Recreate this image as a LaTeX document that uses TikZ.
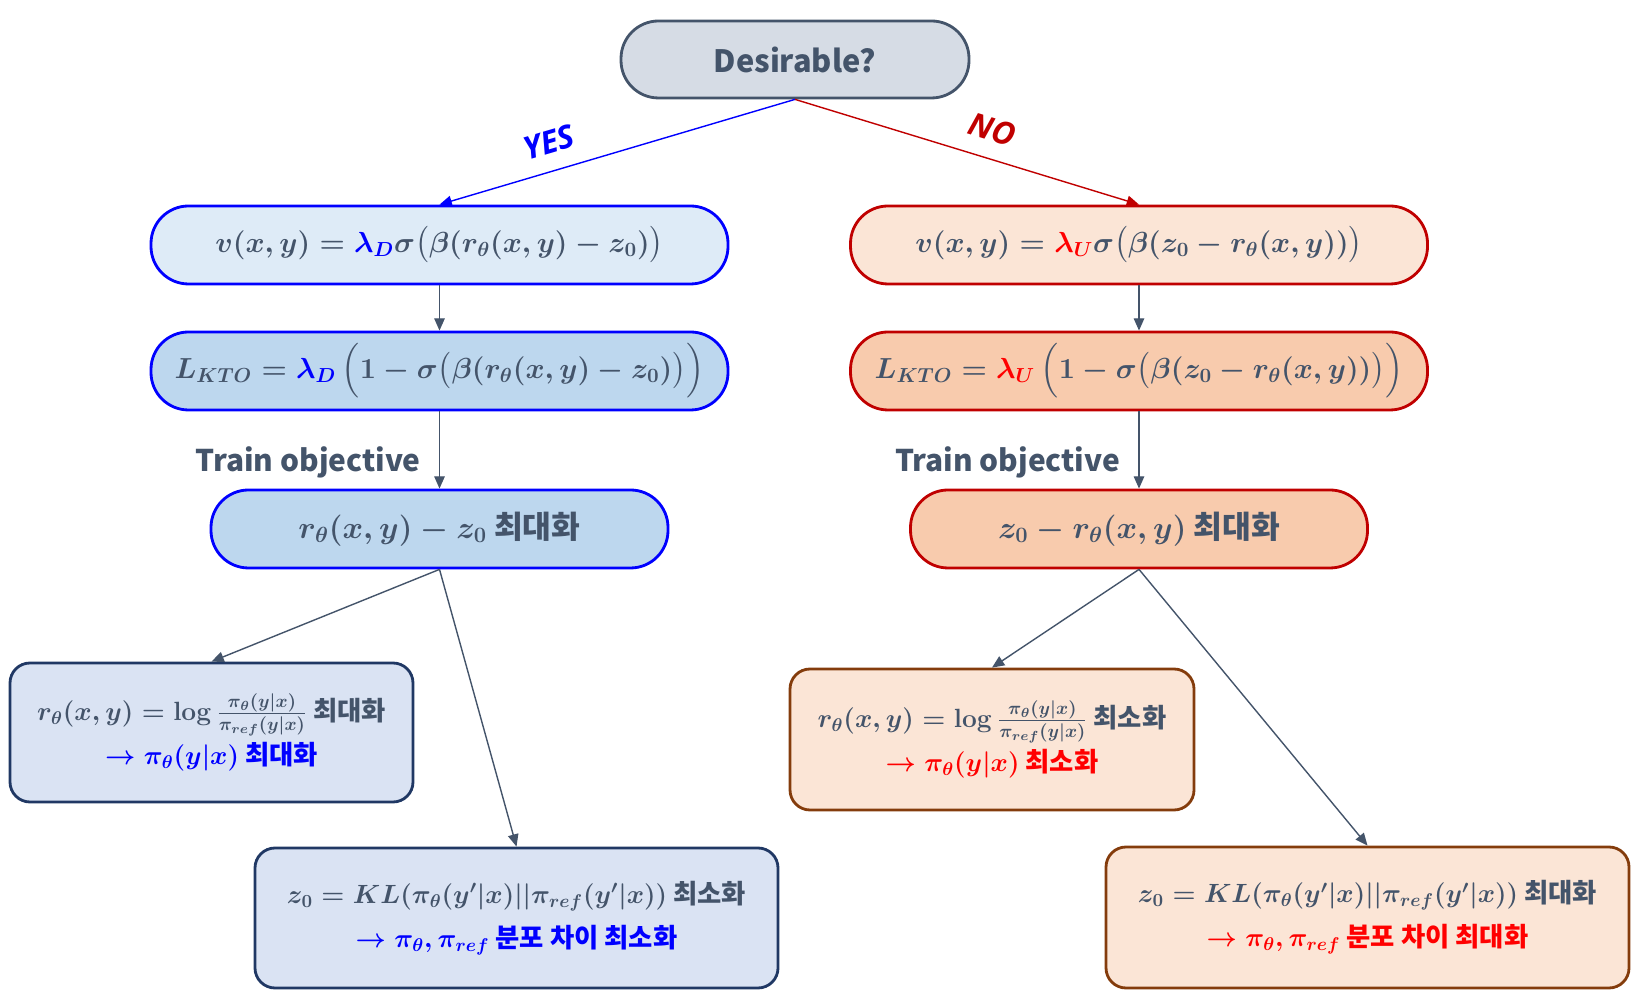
\RequirePackage{fix-cm}
\documentclass[tikz,border=0pt]{standalone}
\usepackage[no-math]{fontspec}
\usepackage{amsmath}
\setmainfont{Noto Sans CJK KR}
\newfontfamily\tagfont{Open Sans}
\usetikzlibrary{positioning,arrows.meta}
\definecolor{slate}{HTML}{44546A}
\definecolor{desfill}{HTML}{D6DCE5}
\definecolor{yesline}{HTML}{0000FF}
\definecolor{yeslight}{HTML}{DEEBF7}
\definecolor{yesmid}{HTML}{BDD7EE}
\definecolor{yescard}{HTML}{DAE3F3}
\definecolor{yesnavy}{HTML}{203864}
\definecolor{noline}{HTML}{C00000}
\definecolor{nolight}{HTML}{FBE5D6}
\definecolor{nomid}{HTML}{F8CBAD}
\definecolor{nobrown}{HTML}{843C0C}
\definecolor{hired}{HTML}{FF0000}

\begin{document}
\begin{tikzpicture}[pill/.style={draw,rounded corners=.75cm,minimum width=11.54cm,minimum height=1.56cm,line width=1.6pt,text=slate,font=\fontsize{16.5}{19}\selectfont\bfseries\boldmath},
  card/.style={draw,rounded corners=.4cm,minimum width=10.46cm,minimum height=2.8cm,line width=1.6pt,text=slate,align=center,font=\fontsize{15}{25}\selectfont\bfseries\boldmath},
  link/.style={draw=slate,line width=.8pt,-{Triangle[length=7pt,width=6pt]}},
  kr/.style={text=slate,font=\fontsize{17}{20}\selectfont\bfseries},
  tag/.style={font=\fontsize{18}{20}\tagfont\bfseries\itshape}]
  \useasboundingbox (0,0) rectangle (32.92,20.16);

  \node[pill,draw=slate,fill=desfill,minimum width=6.96cm,minimum height=1.54cm,kr,font=\fontsize{17.5}{20}\selectfont\bfseries] (d0) at (15.9,18.97) {Desirable?};

  \node[pill,draw=yesline,fill=yeslight] (y1) at (8.79,15.26) {$v(x,y) = {\color{yesline}\lambda_D}\sigma\bigl(\beta(r_\theta(x,y) - z_0)\bigr)$};
  \node[pill,draw=yesline,fill=yesmid] (y2) at (8.79,12.74) {$L_{KTO} = {\color{yesline}\lambda_D}\,\Bigl(1 - \sigma\bigl(\beta(r_\theta(x,y) - z_0)\bigr)\Bigr)$};
  \node[pill,draw=yesline,fill=yesmid,minimum width=9.14cm,font=\fontsize{17.8}{20}\selectfont\bfseries\boldmath] (y3) at (8.79,9.58) {$r_\theta(x,y) - z_0$ 최대화};
  \node[card,draw=yesnavy,fill=yescard,minimum width=8.06cm,minimum height=2.78cm] (y4) at (4.23,5.51) {$r_\theta(x,y) = \log\frac{\pi_\theta(y|x)}{\pi_{ref}(y|x)}$ 최대화\\ \textcolor{yesline}{$\rightarrow \pi_\theta(y|x)$ 최대화}};
  \node[card,draw=yesnavy,fill=yescard] (y5) at (10.33,1.8) {$z_0 = KL(\pi_\theta(y'|x)||\pi_{ref}(y'|x))$ 최소화\\ \textcolor{yesline}{$\rightarrow \pi_\theta,\pi_{ref}$ 분포 차이 최소화}};

  \node[pill,draw=noline,fill=nolight] (n1) at (22.78,15.26) {$v(x,y) = {\color{hired}\lambda_U}\sigma\bigl(\beta(z_0 - r_\theta(x,y))\bigr)$};
  \node[pill,draw=noline,fill=nomid] (n2) at (22.78,12.74) {$L_{KTO} = {\color{hired}\lambda_U}\,\Bigl(1 - \sigma\bigl(\beta(z_0 - r_\theta(x,y))\bigr)\Bigr)$};
  \node[pill,draw=noline,fill=nomid,minimum width=9.14cm,font=\fontsize{17.8}{20}\selectfont\bfseries\boldmath] (n3) at (22.78,9.58) {$z_0 - r_\theta(x,y)$ 최대화};
  \node[card,draw=nobrown,fill=nolight,minimum width=8.08cm,minimum height=2.82cm] (n4) at (19.84,5.37) {$r_\theta(x,y) = \log\frac{\pi_\theta(y|x)}{\pi_{ref}(y|x)}$ 최소화\\ \textcolor{hired}{$\rightarrow \pi_\theta(y|x)$ 최소화}};
  \node[card,draw=nobrown,fill=nolight,minimum height=2.82cm] (n5) at (27.35,1.81) {$z_0 = KL(\pi_\theta(y'|x)||\pi_{ref}(y'|x))$ 최대화\\ \textcolor{hired}{$\rightarrow \pi_\theta,\pi_{ref}$ 분포 차이 최대화}};

  \draw[link,draw=yesline] (d0.south) -- node[pos=.67,sloped,above=6pt,tag,text=yesline] {YES} (y1.north);
  \draw[link,draw=noline] (d0.south) -- node[pos=.55,sloped,above=6pt,tag,text=noline] {NO} (n1.north);
  \draw[link] (y1) -- (y2);
  \draw[link] (y2) -- node[pos=.66,left=7pt,kr] {Train objective} (y3);
  \draw[link] (y3.south) -- (y4.north);
  \draw[link] (y3.south) -- (y5.north);
  \draw[link] (n1) -- (n2);
  \draw[link] (n2) -- node[pos=.66,left=7pt,kr] {Train objective} (n3);
  \draw[link] (n3.south) -- (n4.north);
  \draw[link] (n3.south) -- (n5.north);
\end{tikzpicture}
\end{document}
